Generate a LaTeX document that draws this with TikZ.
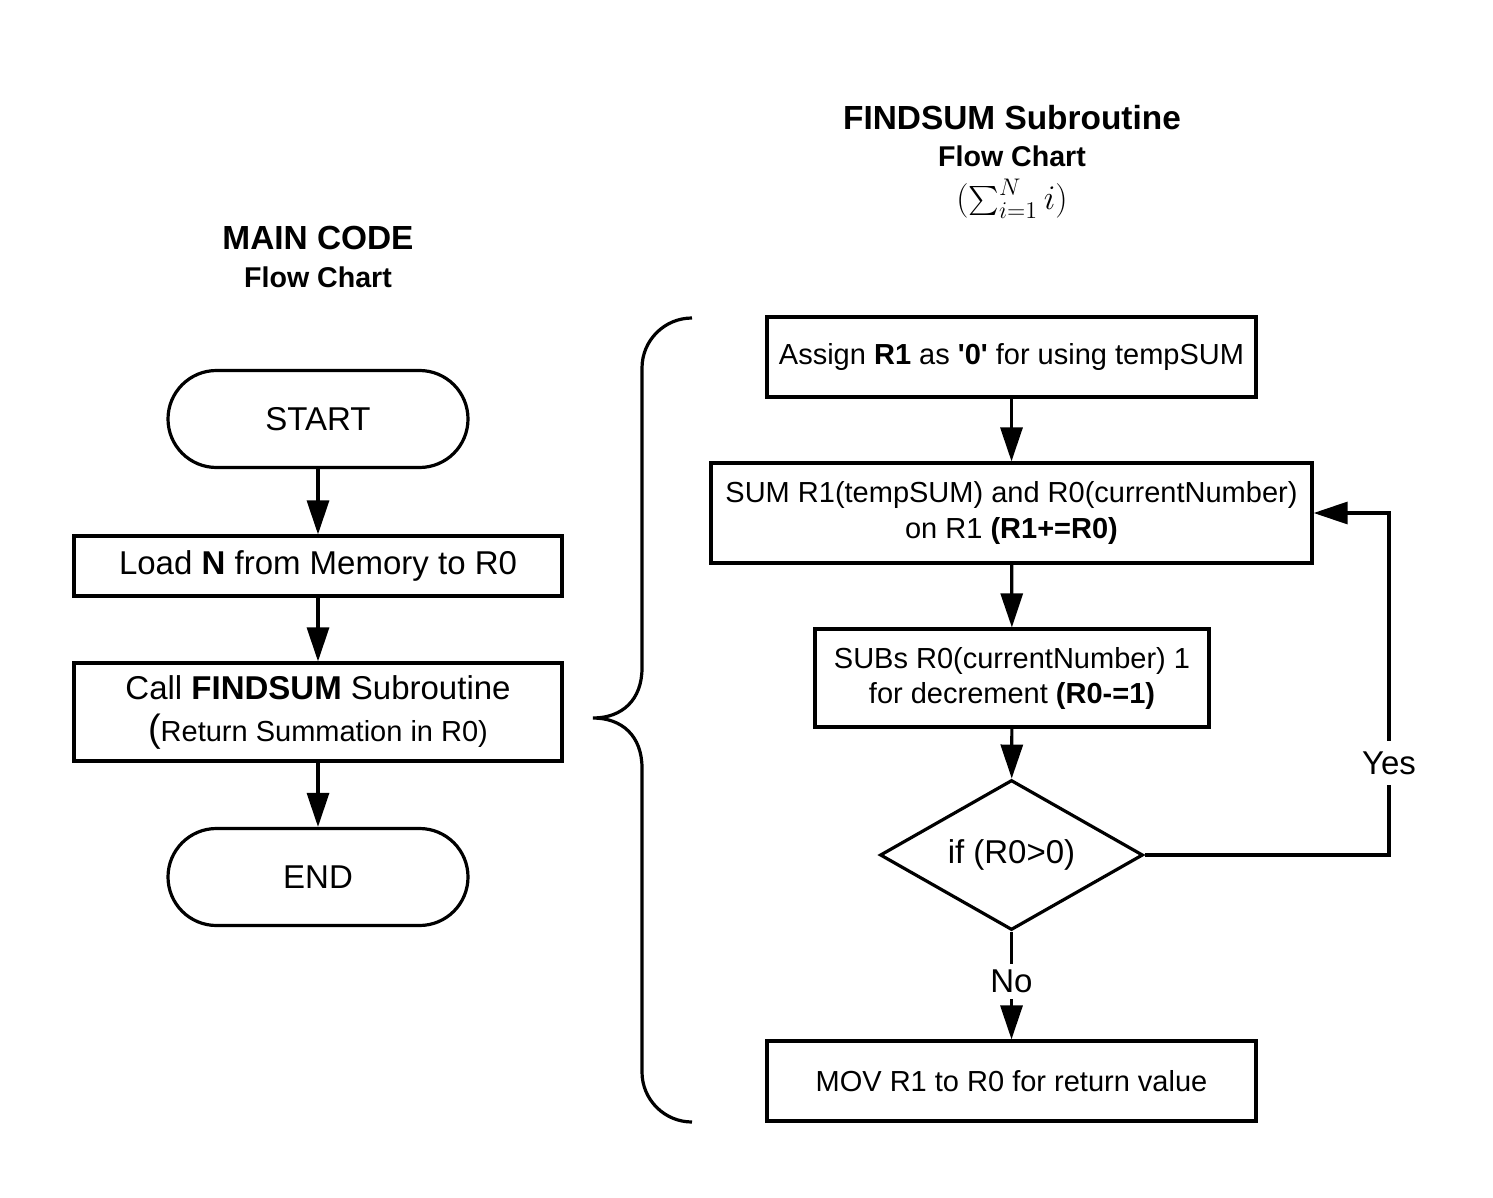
\documentclass[tikz,border=0pt]{standalone}
\usepackage{fontspec}
\setmainfont{Liberation Sans}[Ligatures=TeXOff]
\usetikzlibrary{shapes.geometric,arrows.meta}
\begin{document}
\begin{tikzpicture}[x=0.5pt,y=-0.5pt,
  ln/.style={line width=1.6pt},
  arr/.style={line width=1.6pt,-{Triangle[length=17pt,width=11pt]}},
  boxbase/.style={draw,line width=1.6pt,align=center,inner sep=0pt},
  lbox/.style={boxbase,minimum width=244pt,font=\fontsize{16.5}{21}\selectfont},
  rbox/.style={boxbase,font=\fontsize{14.5}{17.5}\selectfont},
  term/.style={boxbase,minimum width=150pt,minimum height=48.5pt,rounded corners=24.25pt,font=\fontsize{16.5}{20}\selectfont},
  dec/.style={boxbase,diamond,aspect=1.75,minimum width=131.5pt,minimum height=75pt,font=\fontsize{16.5}{20}\selectfont},
  lab/.style={fill=white,inner sep=3pt,font=\fontsize{16.5}{20}\selectfont},
  ttl/.style={font=\fontsize{16.7}{20}\selectfont\bfseries},
  sub/.style={font=\fontsize{14.3}{17}\selectfont\bfseries}
]
\useasboundingbox (0,0) rectangle (1493,1198);

% titles
\node[ttl] (t1) at (318,238) {MAIN CODE};
\node[sub] (t1b) at (318,277) {Flow Chart};
\node[ttl] (t2) at (1012,118) {FINDSUM Subroutine};
\node[sub] (t2b) at (1012,156) {Flow Chart};
\node[font=\fontsize{18}{20}\selectfont,inner sep=0pt] (t2c) at (1012,199) {$(\mathop{\vcenter{\hbox{\scalebox{1.45}{$\sum$}}}}\nolimits_{i=1}^{N} i)$};

% main code
\node[term] (start) at (318,419) {START};
\node[lbox,minimum height=30pt] (load) at (318,566) {Load \textbf{N} from Memory to R0};
\node[lbox,minimum height=49pt] (call) at (318,712) {Call \textbf{FINDSUM} Subroutine\\{\fontsize{19}{21}\selectfont(}{\fontsize{14.5}{21}\selectfont Return Summation in R0)}};
\node[term] (end) at (318,877) {END};

\draw[arr] (start) -- (load);
\draw[arr] (load) -- (call);
\draw[arr] (call) -- (end);

% brace
\draw[ln] (692,318) arc[start angle=270,end angle=180,radius=50] -- (642,668)
  .. controls (642,700) and (622,718) .. (593,718)
  .. controls (622,718) and (642,736) .. (642,768)
  -- (642,1072) arc[start angle=180,end angle=90,radius=50];

% subroutine
\node[rbox,minimum width=244.5pt,minimum height=40pt] (assign) at (1011.5,357) {Assign \textbf{R1} as \textbf{'0'} for using tempSUM};
\node[rbox,minimum width=300.5pt,minimum height=50pt] (sum) at (1011.5,513) {SUM R1(tempSUM) and R0(currentNumber)\\on R1 \textbf{(R1+=R0)}};
\node[rbox,minimum width=197pt,minimum height=49pt] (subs) at (1012,678) {SUBs R0(currentNumber) 1\\for decrement \textbf{(R0-=1)}};
\node[dec] (cond) at (1011.5,855) {if (R0>0)};
\node[rbox,minimum width=244.5pt,minimum height=40pt] (mov) at (1011.5,1081) {MOV R1 to R0 for return value};

\draw[arr] (assign) -- (sum);
\draw[arr] (sum) -- (subs);
\draw[arr] (subs) -- (cond);
\draw[arr] (cond) -- node[lab,pos=0.46] {No} (mov);

\coordinate (c1) at (1389,855);
\coordinate (c2) at (1389,513);
\draw[arr] (cond.east) -- (c1) -- node[lab,pos=0.269,inner sep=5pt] {Yes} (c2) -- (sum.east);
\end{tikzpicture}
\end{document}
